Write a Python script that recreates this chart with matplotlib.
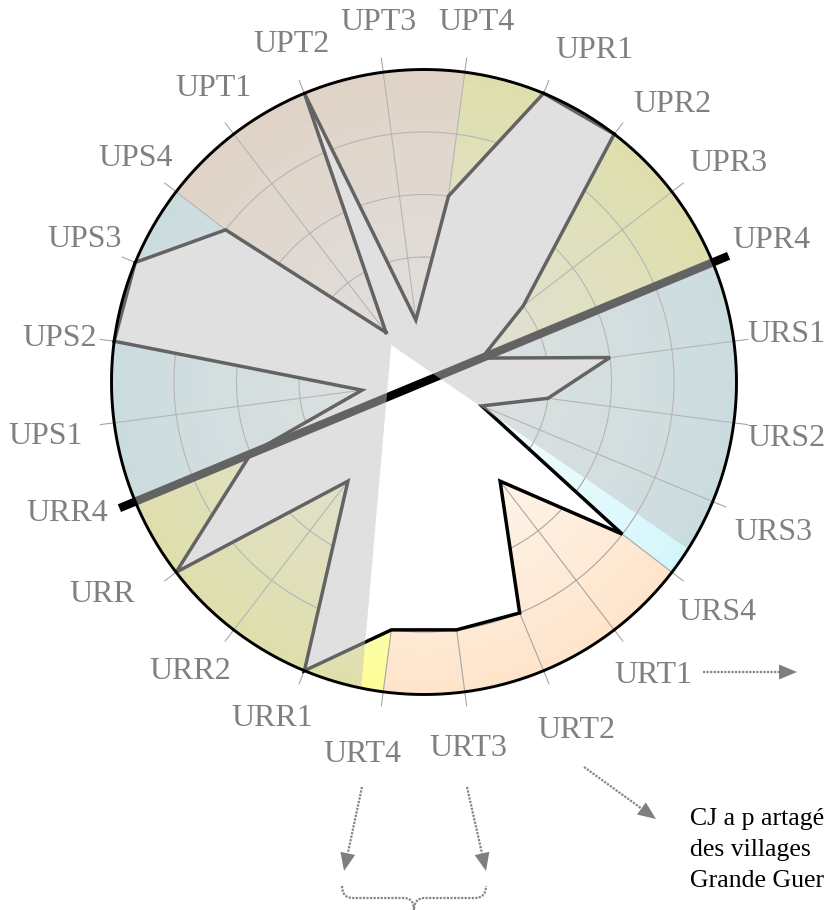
import numpy as np
import matplotlib
matplotlib.use("Agg")
import matplotlib.pyplot as plt
from matplotlib.colors import LinearSegmentedColormap
from matplotlib.patches import Polygon, PathPatch
from matplotlib.path import Path
from matplotlib.lines import Line2D

# ---------------- data ----------------
categories = ['UPT1', 'UPT2', 'UPT3', 'UPT4', 'UPR1', 'UPR2', 'UPR3', 'UPR4',
              'URS1', 'URS2', 'URS3', 'URS4', 'URT1', 'URT2', 'URT3', 'URT4',
              'URR1', 'URR2', 'URR', 'URR4', 'UPS1', 'UPS2', 'UPS3', 'UPS4']
values = [1, 5, 1, 3, 5, 5, 2, 1, 3, 2, 1, 4, 2, 4, 4, 4, 5, 2, 5, 3, 1, 5, 5, 4]
groups = ['UPT', 'UPR', 'URS', 'URT', 'URR', 'UPS']
axis_pair = ['UPR4', 'URR4']
note_lines = ['CJ a p artagé', 'des villages', 'Grande Guer']

# ---------------- style / layout ----------------
group_colors = {'UPT': '#fee4ca', 'URT': '#fee4ca',
                'UPR': '#fdfd96', 'URR': '#fdfd96',
                'URS': '#d3f6fb', 'UPS': '#d3f6fb'}
RMAX = 5
W, H = 828, 910
CX, CY, RPX = 424, 382, 312.5
SERIF = 'Liberation Serif'
LABEL_GREY = '#808080'
# label centres in figure pixels (layout only)
label_px = [(213, 89), (292, 44), (378, 22), (476, 22), (594, 50), (672, 104),
            (728, 163), (771, 240), (786, 334), (786, 438), (773, 533), (717, 612),
            (653, 676), (576, 730), (468, 749), (362, 755), (272, 718), (190, 672),
            (102, 594), (67, 513), (46, 436), (60, 338), (85, 240), (136, 159)]

fig = plt.figure(figsize=(W / 100, H / 100), dpi=100)
ax = fig.add_axes([(CX - RPX) / W, (H - CY - RPX) / H, 2 * RPX / W, 2 * RPX / H],
                  projection='polar')
ax.set_theta_zero_location('N')
ax.set_theta_direction(-1)
ax.set_ylim(0, RMAX)
ax.set_xticks([])
ax.set_yticks([])
ax.grid(False)
ax.spines['polar'].set_visible(False)
ax.set_facecolor('none')

n = len(categories)
step = 2 * np.pi / n
thetas = np.deg2rad(-37.5) + step * np.arange(n)

# background gradient sectors (one per group of four categories)
for g, name in enumerate(groups):
    th0 = thetas[4 * g] - step
    th1 = thetas[4 * g + 3]
    T, R = np.meshgrid(np.linspace(th0, th1, 61), np.linspace(0, RMAX, 80))
    Rc = 0.5 * (R[1:, 1:] + R[:-1, 1:])
    cmap = LinearSegmentedColormap.from_list(name, ['white', group_colors[name]])
    ax.pcolormesh(T, R, Rc, cmap=cmap, vmin=0, vmax=RMAX, shading='flat',
                  antialiased=False, edgecolors='none', zorder=1)

# grid: spokes (with small outer ticks) and rings
for th in thetas:
    ax.plot([th, th], [0, RMAX * 1.045], color='#a6a6a6', lw=0.8, zorder=2,
            clip_on=False)
ring_t = np.linspace(0, 2 * np.pi, 721)
for r in range(1, RMAX):
    ax.plot(ring_t, np.full_like(ring_t, r), color='#a6a6a6', lw=0.8, zorder=2)

# radar polygon
th_c = np.append(thetas, thetas[0])
v_c = np.append(values, values[0])
ax.fill(th_c, v_c, color='white', lw=0, zorder=3)
ax.plot(th_c, v_c, color='black', lw=2.5, zorder=4, solid_joinstyle='miter',
        clip_on=False)

# thick axis line
i1, i2 = categories.index(axis_pair[0]), categories.index(axis_pair[1])
ax.plot([thetas[i1], thetas[i2]], [RMAX * 1.055, RMAX * 1.055], color='black',
        lw=6, solid_capstyle='butt', zorder=5, clip_on=False)

# translucent grey overlay, leaving an uncovered 60 deg wedge
A_r, A_t = 0.79, np.deg2rad(-41.5)
ax_, ay_ = A_r * np.sin(A_t), A_r * np.cos(A_t)
phis = np.deg2rad(np.linspace(185.0, 124.5 + 360.0, 90))
px = np.concatenate([[ax_], ax_ + 20 * np.sin(phis)])
py = np.concatenate([[ay_], ay_ + 20 * np.cos(phis)])
ov = Polygon(np.column_stack([np.arctan2(px, py), np.hypot(px, py)]), closed=True,
             facecolor=(196 / 255,) * 3, alpha=0.51, edgecolor='none', zorder=6)
ax.add_patch(ov)

# outer circle
ax.plot(ring_t, np.full_like(ring_t, RMAX), color='black', lw=2.1, zorder=7,
        clip_on=False)

# category labels
unit = RPX / RMAX
for lab, (lx, ly) in zip(categories, label_px):
    th = np.arctan2(lx - CX, CY - ly)
    rr = np.hypot(lx - CX, CY - ly) / unit
    ax.text(th, rr, lab, ha='center', va='center', fontsize=23, color=LABEL_GREY,
            family=SERIF, clip_on=False)


# ---------------- annotations (figure pixel coordinates) ----------------
def fxy(x, y):
    return x / W, 1 - y / H


def dotted_arrow(x0, y0, x1, y1, L=18, hw=7.5):
    u = np.array([x1 - x0, y1 - y0], float)
    u /= np.hypot(*u)
    nrm = np.array([-u[1], u[0]])
    base = np.array([x1, y1]) - L * u
    a, b = fxy(x0, y0), fxy(*base)
    fig.add_artist(Line2D([a[0], b[0]], [a[1], b[1]], transform=fig.transFigure,
                          color='#858585', lw=1.6, linestyle=(0, (1, 0.6))))
    tri = [fxy(x1, y1), fxy(*(base + hw * nrm)), fxy(*(base - hw * nrm))]
    fig.add_artist(Polygon(tri, closed=True, transform=fig.transFigure,
                           facecolor='#7f7f7f', edgecolor='none'))


dotted_arrow(703, 672, 797, 672)
dotted_arrow(584, 767, 656, 819)
dotted_arrow(362, 787, 344, 871)
dotted_arrow(467, 787, 486, 871)

# curly brace
bv = [(342, 886), (342, 898), (353, 898), (404, 898), (414, 898), (414, 910),
      (414, 898), (424, 898), (475, 898), (486, 898), (486, 886)]
bc = [Path.MOVETO, Path.CURVE3, Path.CURVE3, Path.LINETO, Path.CURVE3, Path.CURVE3,
      Path.CURVE3, Path.CURVE3, Path.LINETO, Path.CURVE3, Path.CURVE3]
brace = PathPatch(Path([fxy(*p) for p in bv], bc), transform=fig.transFigure,
                  facecolor='none', edgecolor='#858585', lw=1.6,
                  linestyle=(0, (1, 0.6)))
fig.add_artist(brace)

for k, line in enumerate(note_lines):
    x, y = fxy(690, 825 + 31 * k)
    fig.text(x, y, line, ha='left', va='baseline', fontsize=18.5,
             family=SERIF, color='black')

fig.savefig('out.png', dpi=100)
